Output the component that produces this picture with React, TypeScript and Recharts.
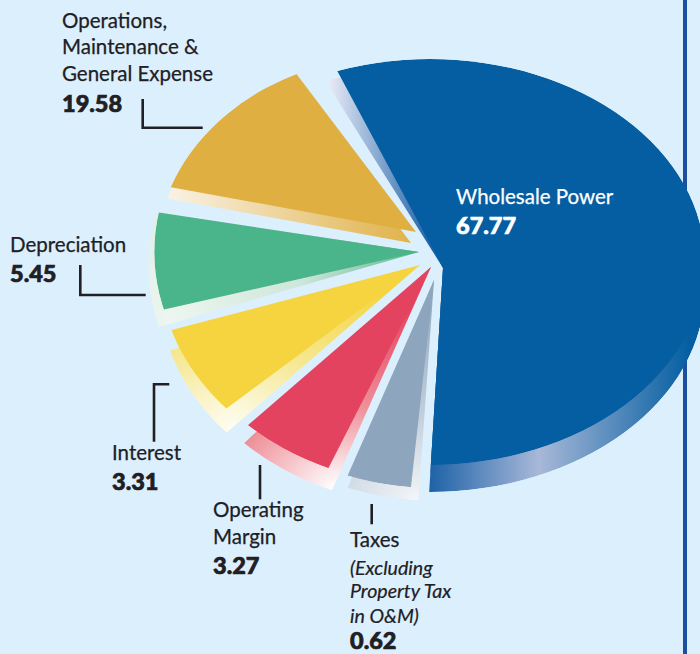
import { Cell, Pie, PieChart } from "recharts"

const categories = ["Wholesale Power", "Operations, Maintenance & General Expense", "Depreciation", "Interest", "Operating Margin", "Taxes"]
const printedValues = ["67.77", "19.58", "5.45", "3.31", "3.27", "0.62"]
// the artwork is not drawn to scale, so the wedges use shares measured off the picture (% of the circle)
const wedgeShares = [57.4, 12.67, 7.19, 6.78, 5.78, 4.08]

const K = 1.22 // the pie is tilted: chart is stretched sideways by this
const BG = "#dcEFFD"
const INK = "#202024"
const FONT = "Lato, sans-serif"

// ax, ay are page pixels of the wedge tip
const layout = [
  { ax: 443, ay: 268, r: 203, wide: 1.11, start: -92.9, fill: "#045EA1", back: "url(#gWh)", clipX: -13, clipY: -6, tipX: 0, tipY: 0, shiftX: 0, shiftY: 27, extra: 0, trim: 0 },
  { ax: 416, ay: 232, r: 200, wide: 1, start: 121.8, fill: "#DFAF41", back: "url(#gOps)", clipX: -15.7, clipY: 22.9, tipX: -5, tipY: 11, shiftX: -5, shiftY: 14, extra: 0, trim: 0 },
  { ax: 419, ay: 252, r: 217, wide: 1, start: 169.5, fill: "#4AB48A", back: "url(#gDep)", clipX: 0, clipY: 0, tipX: 0, tipY: 0, shiftX: -6, shiftY: 15, extra: 4, trim: 0 },
  { ax: 420, ay: 265, r: 214, wide: 1, start: 197.7, fill: "#F5D440", back: "url(#gInt)", clipX: 0, clipY: 0, tipX: 0, tipY: 0, shiftX: 0, shiftY: 24, extra: 4.5, trim: 5 },
  { ax: 431, ay: 267, r: 218, wide: 1, start: 226.5, fill: "#E4435F", back: "url(#gMar)", clipX: 0, clipY: 0, tipX: 0, tipY: 0, shiftX: 0, shiftY: 21, extra: 2.7, trim: 2.5 },
  { ax: 434, ay: 280, r: 208, wide: 1, start: 250.1, fill: "#8DA6BD", back: "url(#gTax)", clipX: 0, clipY: 0, tipX: 0, tipY: 0, shiftX: 3, shiftY: 13, extra: 1.9, trim: 1.1 },
]

const leaders = ["142.7,99 142.7,127.7 202.7,127.7", "80.3,265 80.3,295 145.7,295", "169.3,384.3 154,384.3 154,441.7", "260,465 260,499.3", "371.7,504 371.7,524.3"]

function Wedges() {
  const wedge = (i: number, extra: number) => [
    { value: wedgeShares[i] + extra / 3.6 },
    { value: 100 - wedgeShares[i] - extra / 3.6 },
  ]
  const wh = layout[0]
  const depX = 170 / K
  return (
    <PieChart width={700 / K} height={654} margin={{ top: 0, right: 0, bottom: 0, left: 0 }}>
      <defs>
        <linearGradient id="gWh" gradientUnits="userSpaceOnUse" x1={330 / K} y1={0} x2={690 / K} y2={0}>
          <stop offset="0" stopColor="#E6E9F5" />
          <stop offset="0.28" stopColor="#1F63A8" />
          <stop offset="0.58" stopColor="#A8B8D8" />
          <stop offset="1" stopColor="#045EA1" />
        </linearGradient>
        <linearGradient id="gOps" gradientUnits="userSpaceOnUse" x1={170 / K} y1={0} x2={420 / K} y2={0}>
          <stop offset="0" stopColor="#F9F1E2" />
          <stop offset="1" stopColor="#DFB044" />
        </linearGradient>
        <radialGradient
          id="gDep"
          gradientUnits="userSpaceOnUse"
          cx={depX}
          cy={322}
          r={215}
          gradientTransform={`translate(${depX} 322) scale(1 2.5) translate(${-depX} -322)`}
        >
          <stop offset="0" stopColor="#EDF6F0" />
          <stop offset="0.5" stopColor="#CFE6DA" />
          <stop offset="1" stopColor="#55B58D" />
        </radialGradient>
        <radialGradient id="gInt" gradientUnits="userSpaceOnUse" cx={232 / K} cy={428} r={185}>
          <stop offset="0" stopColor="#FDFDF3" />
          <stop offset="0.45" stopColor="#F6E894" />
          <stop offset="1" stopColor="#F4D540" />
        </radialGradient>
        <radialGradient id="gMar" gradientUnits="userSpaceOnUse" cx={335 / K} cy={488} r={190}>
          <stop offset="0" stopColor="#FFFFFF" />
          <stop offset="0.45" stopColor="#EE8F98" />
          <stop offset="1" stopColor="#E4435F" />
        </radialGradient>
        <radialGradient id="gTax" gradientUnits="userSpaceOnUse" cx={418 / K} cy={502} r={215}>
          <stop offset="0" stopColor="#F4F6F9" />
          <stop offset="0.4" stopColor="#C3CFDC" />
          <stop offset="1" stopColor="#8DA6BD" />
        </radialGradient>
        {layout.map((s, i) => (
          <clipPath id={`top${i}`} key={`top${i}`}>
            <ellipse cx={(s.ax + s.clipX) / K} cy={s.ay + s.clipY} rx={s.r * s.wide} ry={s.r} />
          </clipPath>
        ))}
        {layout.map((s, i) => (
          <clipPath id={`low${i}`} key={`low${i}`}>
            <ellipse cx={(s.ax + s.clipX + s.shiftX) / K} cy={s.ay + s.clipY + s.shiftY} rx={s.r * s.wide} ry={s.r} />
          </clipPath>
        ))}
        <clipPath id="whBand">
          <ellipse cx={(wh.ax + wh.clipX - 3) / K} cy={wh.ay + wh.clipY + 8} rx={wh.r * wh.wide} ry={wh.r} />
        </clipPath>
      </defs>
      <Pie
        className="whBand"
        data={wedge(0, 3.5)}
        dataKey="value"
        cx={wh.ax / K}
        cy={wh.ay}
        outerRadius={wh.r + 60}
        startAngle={wh.start}
        endAngle={wh.start + 360}
        stroke="none"
        isAnimationActive={false}
      >
        <Cell fill={wh.back} />
        <Cell fill="none" />
      </Pie>
      {layout.map((s, i) => (
        <Pie
          key={`side-${categories[i]}`}
          className={`low${i}`}
          data={wedge(i, s.extra - s.trim)}
          dataKey="value"
          cx={(s.ax + s.tipX) / K}
          cy={s.ay + s.tipY}
          outerRadius={s.r + 60}
          startAngle={s.start + s.trim}
          endAngle={s.start + s.trim + 360}
          stroke="none"
          isAnimationActive={false}
        >
          <Cell fill={s.back} />
          <Cell fill="none" />
        </Pie>
      ))}
      {layout.map((s, i) => (
        <Pie
          key={`face-${categories[i]}`}
          className={`top${i}`}
          data={wedge(i, 0)}
          dataKey="value"
          cx={s.ax / K}
          cy={s.ay}
          outerRadius={s.r + 60}
          startAngle={s.start}
          endAngle={s.start + 360}
          stroke="none"
          isAnimationActive={false}
        >
          <Cell fill={s.fill} />
          <Cell fill="none" />
        </Pie>
      ))}
    </PieChart>
  )
}

function Labels() {
  const name = { fontFamily: FONT, fontSize: 20.5, fill: INK, stroke: INK, strokeWidth: 0.25 }
  const num = { fontFamily: FONT, fontSize: 23.5, fontWeight: 900, fill: INK, stroke: INK, strokeWidth: 0.7 }
  const note = { fontFamily: FONT, fontSize: 19.6, fontStyle: "italic", fill: INK, stroke: INK, strokeWidth: 0.2 }
  return (
    <svg width={700} height={654} style={{ position: "absolute", left: 0, top: 0 }}>
      {leaders.map((p) => (
        <polyline key={p} points={p} fill="none" stroke={INK} strokeWidth={2.6} />
      ))}
      <text x={62} y={28} {...name}>Operations,</text>
      <text x={62} y={54} {...name}>Maintenance &amp;</text>
      <text x={62} y={81} {...name}>General Expense</text>
      <text x={62} y={112} {...num}>{printedValues[1]}</text>
      <text x={10} y={252} {...name}>{categories[2]}</text>
      <text x={10} y={282} {...num}>{printedValues[2]}</text>
      <text x={112} y={460} {...name}>{categories[3]}</text>
      <text x={112} y={490} {...num}>{printedValues[3]}</text>
      <text x={213} y={517} {...name}>Operating</text>
      <text x={213} y={544} {...name}>Margin</text>
      <text x={213} y={574} {...num}>{printedValues[4]}</text>
      <text x={350} y={547} {...name}>{categories[5]}</text>
      <text x={350} y={575} {...note}>(Excluding</text>
      <text x={350} y={598} {...note}>Property Tax</text>
      <text x={350} y={623} {...note}>in O&amp;M)</text>
      <text x={350} y={649} {...num}>{printedValues[5]}</text>
      <text x={456} y={204} {...name} fill="#fff" stroke="#fff">{categories[0]}</text>
      <text x={456} y={234} {...num} fill="#fff" stroke="#fff">{printedValues[0]}</text>
    </svg>
  )
}

export default function App() {
  const clips = layout.map((_, i) => `.top${i}{clip-path:url(#top${i})}.low${i}{clip-path:url(#low${i})}`).join("") + ".whBand{clip-path:url(#whBand)}"
  return (
    <div style={{ position: "absolute", left: 0, top: 0, width: 700, height: 654, overflow: "hidden", background: BG }}>
      <style>{clips}</style>
      <div style={{ position: "absolute", left: 683, top: 0, width: 4, height: 654, background: "#1B4FA0" }} />
      <div style={{ position: "absolute", left: 0, top: 0, transform: `scaleX(${K})`, transformOrigin: "0 0" }}>
        <Wedges />
      </div>
      <Labels />
    </div>
  )
}
